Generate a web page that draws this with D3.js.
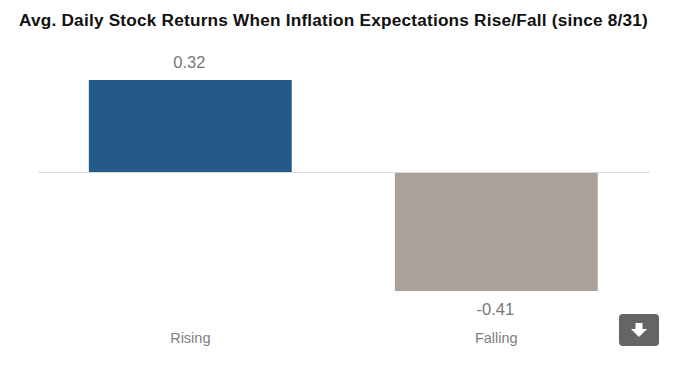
<!DOCTYPE html>
<html>
<head>
<meta charset="utf-8">
<script src="https://cdn.jsdelivr.net/npm/d3@7"></script>
<style>
  html, body { margin: 0; padding: 0; background: #fff; }
  svg { display: block; }
  text { font-family: "Liberation Sans", Arial, sans-serif; }
</style>
</head>
<body>
<div id="chart"></div>
<script>
const chartTitle = "Avg. Daily Stock Returns When Inflation Expectations Rise/Fall (since 8/31)";
const categories = ["Rising", "Falling"];
const returns = [0.32, -0.41];
const valueLabels = ["0.32", "-0.41"];
const barColors = ["#245a88", "#a9a19b"];

const width = 700;
const height = 365;
const margin = {left: 38, right: 50, top: 80, bottom: 73};

const svg = d3.select("#chart")
  .append("svg")
    .attr("width", width)
    .attr("height", height);

svg.append("text")
    .attr("x", 19)
    .attr("y", 26)
    .attr("font-size", "17.2px")
    .attr("font-weight", "bold")
    .attr("letter-spacing", "0.22px")
    .attr("fill", "#111")
    .text(chartTitle);

const xScale = d3.scaleBand()
    .domain(categories)
    .range([margin.left - 0.7, width - margin.right - 0.7])
    .paddingInner(0.337)
    .paddingOuter(0.1685);

const yScale = d3.scaleLinear()
    .domain([-0.41, 0.32])
    .range([height - margin.bottom - 1, margin.top]);

// bars go up or down from zero
svg.selectAll(".bar")
    .data(categories)
    .enter()
    .append("rect")
      .attr("class", "bar")
      .attr("x", (d) => xScale(d))
      .attr("y", (d, i) => yScale(Math.max(returns[i], 0)))
      .attr("width", xScale.bandwidth())
      .attr("height", (d, i) => Math.abs(yScale(returns[i]) - yScale(0)))
      .attr("fill", (d, i) => barColors[i]);

// zero line
svg.append("line")
    .attr("x1", margin.left)
    .attr("x2", width - margin.right)
    .attr("y1", yScale(0))
    .attr("y2", yScale(0))
    .attr("stroke", "#dcdcdc")
    .attr("stroke-width", 1);

// value labels
svg.selectAll(".value")
    .data(categories)
    .enter()
    .append("text")
      .attr("class", "value")
      .attr("x", (d) => xScale(d) + xScale.bandwidth() / 2 - 1)
      .attr("y", (d, i) => returns[i] >= 0 ? yScale(returns[i]) - 12 : yScale(returns[i]) + 24)
      .attr("text-anchor", "middle")
      .attr("font-size", "16.5px")
      .attr("fill", "#777")
      .text((d, i) => valueLabels[i]);

// category labels
const xAxis = svg.append("g")
    .attr("transform", `translate(0,${height - 32})`)
    .call(d3.axisBottom(xScale).tickSize(0).tickPadding(0));
xAxis.select(".domain").remove();
xAxis.selectAll("text")
    .attr("font-family", "Liberation Sans")
    .attr("font-size", "14.5px")
    .attr("fill", "#808080")
    .attr("dy", "0.71em");

// download button
const button = svg.append("g").attr("transform", "translate(619,314)");
button.append("rect")
    .attr("width", 40)
    .attr("height", 32)
    .attr("rx", 4)
    .attr("fill", "#656565");
button.append("path")
    .attr("d", "M16.5 9h7v6h4.5l-8 8-8-8h4.5z")
    .attr("fill", "#fff");
</script>
</body>
</html>
